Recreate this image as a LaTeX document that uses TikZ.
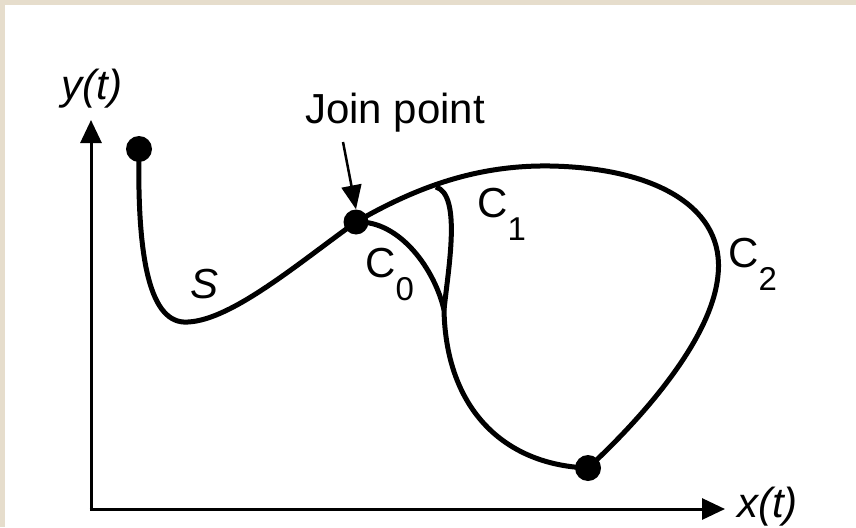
\documentclass[tikz,border=0pt]{standalone}
\usepackage{fontspec}
\setmainfont{Liberation Sans}
\usetikzlibrary{arrows.meta}
\definecolor{beige}{HTML}{E6DDCC}
\newcommand{\mysubC}[1]{C\kern0pt\raisebox{-23pt}{\fontsize{33}{33}\selectfont #1}}
\begin{document}
\begin{tikzpicture}[x=1pt,y=-1pt,
  curve/.style={line width=5pt},
  axis/.style={line width=3pt,-{Triangle[length=23pt,width=21pt]}},
  dot/.style={circle,fill=black,inner sep=0pt,minimum size=#1},
  lbl/.style={inner sep=0pt,font=\fontsize{42}{48}\selectfont},
  lbli/.style={lbl,font=\fontsize{42}{48}\selectfont\itshape}]
  % background
  \fill[beige] (0,0) rectangle (856,527);
  \fill[white] (5,5) rectangle (856,527);
  \useasboundingbox (0,0) rectangle (856,527);
  % axes
  \coordinate (O) at (91,509);
  \coordinate (ytip) at (91,120);
  \coordinate (xtip) at (725,509);
  \draw[axis] (O) -- (ytip);
  \draw[axis] ([xshift=-1.5pt]O) -- (xtip);
  \node[lbli,anchor=base] (ylab) at (92,99) {y(t)};
  \node[lbli,anchor=base west] (xlab) at (737,517) {x(t)};
  % points
  \node[dot=26pt] (start) at (139,149) {};
  \node[dot=25pt] (join) at (356,222) {};
  \node[dot=26pt] (end) at (588,468) {};
  \coordinate (meet) at (444,310);
  \coordinate (branch) at (436,187);
  % curve S
  \draw[curve] (start.center) .. controls (137,260) and (150,325) .. (188,322)
    .. controls (232,320) and (300,262) .. (join.center);
  % outer curve C2
  \draw[curve] (join.center) .. controls (420,185) and (480,165) .. (550,166)
    .. controls (660,168) and (725,210) .. (718,275)
    .. controls (712,340) and (640,420) .. (end.center);
  % C0
  \draw[curve] (join.center) .. controls (400,220) and (435,270) .. (meet);
  % C1 branch
  \draw[curve] (branch) .. controls (462,195) and (448,270) .. (meet);
  % shared lower part
  \draw[curve] (meet) .. controls (446,410) and (505,465) .. (end.center);
  % join point label and arrow
  \node[lbl,anchor=base] (jlab) at (395,123) {Join point};
  \coordinate (jtail) at (343,142);
  \draw[line width=2.5pt,-{Triangle[length=24pt,width=20pt]}] (jtail) -- (join.north);
  % curve labels
  \node[lbli,anchor=base] (S) at (205,298) {S};
  \node[lbl,anchor=base west] (C0) at (365,277) {\mysubC{0}};
  \node[lbl,anchor=base west] (C1) at (477,217) {\mysubC{1}};
  \node[lbl,anchor=base west] (C2) at (728,267) {\mysubC{2}};
\end{tikzpicture}
\end{document}
